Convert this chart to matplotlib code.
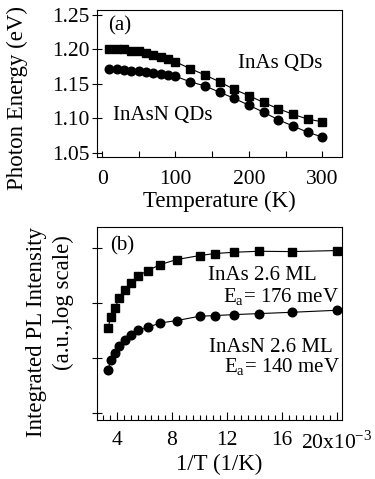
import matplotlib
matplotlib.use('Agg')
import matplotlib.pyplot as plt
from matplotlib.ticker import MultipleLocator, NullFormatter, FixedLocator, FormatStrFormatter

plt.rcParams['font.family'] = ['Liberation Serif', 'DejaVu Serif']
plt.rcParams['mathtext.fontset'] = 'custom'
plt.rcParams['mathtext.rm'] = 'Liberation Serif'

# Panel (a): PL peak energy vs temperature
temp = [10, 20, 30, 40, 50, 60, 70, 80, 90, 100,
        120, 140, 160, 180, 200, 220, 240, 260, 280, 300]
e_inas = [1.200, 1.200, 1.200, 1.198, 1.197, 1.195, 1.192, 1.189, 1.186, 1.182,
          1.172, 1.163, 1.153, 1.142, 1.133, 1.123, 1.114, 1.106, 1.099, 1.095]
e_inasn = [1.172, 1.171, 1.170, 1.169, 1.168, 1.167, 1.166, 1.165, 1.163, 1.161,
           1.153, 1.147, 1.138, 1.129, 1.119, 1.109, 1.098, 1.089, 1.080, 1.073]

# Panel (b): integrated PL intensity vs 1/T
inv_t = [3.33e-3, 3.57e-3, 3.85e-3, 4.17e-3, 4.55e-3, 5.00e-3, 5.56e-3, 6.25e-3,
         7.14e-3, 8.33e-3, 10.0e-3, 11.1e-3, 12.5e-3, 14.3e-3, 16.7e-3, 20.0e-3]
i_inas = [10**1.545, 10**1.745, 10**1.909, 10**2.091, 10**2.242, 10**2.364,
          10**2.497, 10**2.588, 10**2.697, 10**2.788, 10**2.861, 10**2.897,
          10**2.921, 10**2.939, 10**2.933, 10**2.952]
i_inasn = [10**0.788, 10**0.958, 10**1.091, 10**1.224, 10**1.333, 10**1.424,
           10**1.503, 10**1.558, 10**1.636, 10**1.679, 10**1.758, 10**1.770,
           10**1.788, 10**1.806, 10**1.830, 10**1.867]

fs = 15.5     # tick labels
fl = 16.5     # axis labels
ft = 15       # annotations
fig = plt.figure(figsize=(3.75, 4.79), dpi=100)

# ---- top panel ----
ax1 = fig.add_axes([0.2587, 0.6722, 0.6533, 0.3069])
ax1.plot(temp, e_inas, 'k-', lw=0.8, marker='s', ms=5.4)
ax1.plot(temp, e_inasn, 'k-', lw=0.8, marker='o', ms=6.2)
ax1.set_xlim(-7, 327)
ax1.set_ylim(1.044, 1.257)
ax1.xaxis.set_major_locator(MultipleLocator(100))
ax1.xaxis.set_minor_locator(MultipleLocator(50))
ax1.yaxis.set_major_locator(MultipleLocator(0.05))
ax1.yaxis.set_major_formatter(FormatStrFormatter('%.2f'))
ax1.tick_params(axis='x', which='both', direction='in', length=4, width=0.8, labelsize=fs, pad=9)
ax1.tick_params(axis='y', which='both', direction='inout', length=7, width=0.8, labelsize=fs, pad=2)
ax1.set_xlabel('Temperature (K)', fontsize=fl, labelpad=2)
ax1.set_ylabel('Photon Energy (eV)', fontsize=fl)
ax1.yaxis.set_label_coords(-0.282, 0.40)
ax1.text(0.045, 0.864, '(a)', transform=ax1.transAxes, fontsize=ft, va='baseline')
ax1.text(0.918, 0.605, 'InAs QDs', transform=ax1.transAxes, fontsize=ft, ha='right', va='baseline')
ax1.text(0.065, 0.252, 'InAsN QDs', transform=ax1.transAxes, fontsize=ft, ha='left', va='baseline')
for s in ax1.spines.values():
    s.set_linewidth(0.8)

# ---- bottom panel ----
ax2 = fig.add_axes([0.2587, 0.1232, 0.6533, 0.4029])
ax2.plot(inv_t, i_inas, 'k-', lw=0.8, marker='s', ms=5.4)
ax2.plot(inv_t, i_inasn, 'k-', lw=0.8, marker='o', ms=6.2)
ax2.set_yscale('log')
ax2.set_xlim(2.545e-3, 20.36e-3)
ax2.set_ylim(10**-0.127, 10**3.38)
ax2.yaxis.set_major_locator(FixedLocator([1, 10, 100, 1000]))
ax2.yaxis.set_minor_locator(FixedLocator([]))
ax2.yaxis.set_major_formatter(NullFormatter())
ax2.xaxis.set_major_locator(FixedLocator([4e-3, 8e-3, 12e-3, 16e-3, 20e-3]))
ax2.xaxis.set_minor_locator(MultipleLocator(0.5e-3))
ax2.set_xticklabels(['4', '8', '12', '16', r'20x10$^{\mathregular{-3}}$'])
ax2.tick_params(axis='x', which='major', direction='in', length=6, width=0.8, labelsize=fs, pad=8)
ax2.tick_params(axis='x', which='minor', direction='in', length=3.5, width=0.8)
ax2.tick_params(axis='y', which='both', direction='inout', length=7, width=0.8)
ax2.set_xlabel('1/T (1/K)', fontsize=fl, labelpad=0)
ax2.text(-0.245, 0.456, 'Integrated PL Intensity', transform=ax2.transAxes, fontsize=fl,
         rotation=90, ha='center', va='center')
ax2.text(-0.139, 0.611, '(a.u.,log scale)', transform=ax2.transAxes, fontsize=fl,
         rotation=90, ha='center', va='center')
ax2.text(0.053, 0.88, '(b)', transform=ax2.transAxes, fontsize=ft, va='baseline')
ax2.text(0.453, 0.725, 'InAs 2.6 ML', transform=ax2.transAxes, fontsize=ft, va='baseline')
ax2.text(0.514, 0.611, r'E$_{\mathregular{a}}$= 176 meV', transform=ax2.transAxes, fontsize=ft,
         va='baseline')
ax2.text(0.457, 0.352, 'InAsN 2.6 ML', transform=ax2.transAxes, fontsize=ft, va='baseline')
ax2.text(0.518, 0.244, r'E$_{\mathregular{a}}$= 140 meV', transform=ax2.transAxes, fontsize=ft,
         va='baseline')
for s in ax2.spines.values():
    s.set_linewidth(0.8)

fig.savefig('out.png', dpi=100)
